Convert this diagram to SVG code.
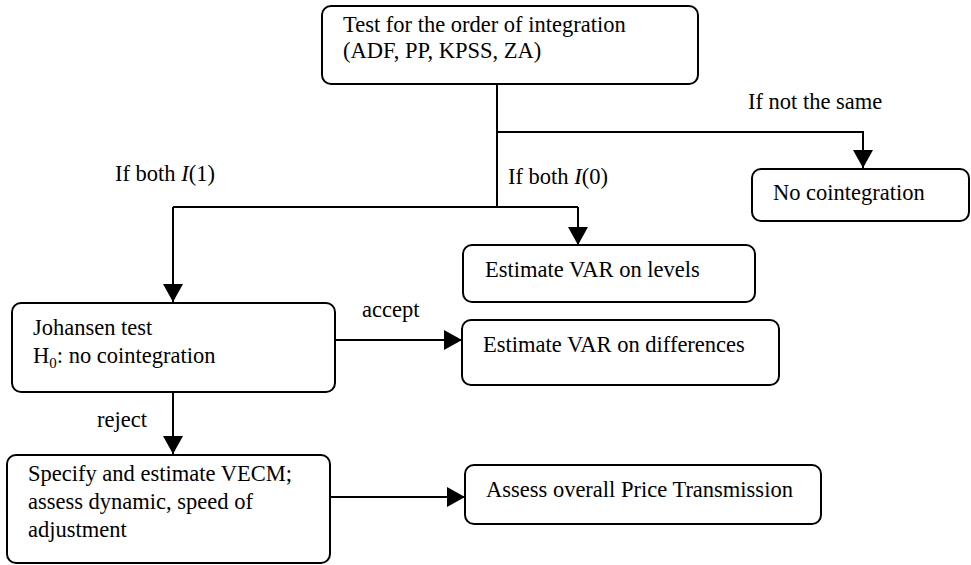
<svg xmlns="http://www.w3.org/2000/svg" width="971" height="565" viewBox="0 0 971 565">
  <style>
    .box { fill: #ffffff; stroke: #000000; stroke-width: 2; }
    .wire { fill: none; stroke: #000000; stroke-width: 2; }
    text { font-family: "Liberation Serif", "Times New Roman", serif; font-size: 22.5px; fill: #000000; }
    .it { font-style: italic; }
  </style>
  <defs>
    <marker id="arrow" viewBox="0 0 18 20" refX="18" refY="10" markerWidth="18" markerHeight="20" markerUnits="userSpaceOnUse" orient="auto">
      <path d="M0,0 L18,10 L0,20 Z" fill="#000000"/>
    </marker>
  </defs>
  <rect width="971" height="565" fill="#ffffff"/>

  <!-- connectors -->
  <g id="connectors">
    <path class="wire" d="M497,84 V207"/>
    <path class="wire" d="M497,132 H863 V168" marker-end="url(#arrow)"/>
    <path class="wire" d="M173,207 H578"/>
    <path class="wire" d="M173,207 V302" marker-end="url(#arrow)"/>
    <path class="wire" d="M578,207 V245" marker-end="url(#arrow)"/>
    <path class="wire" d="M335,340 H462" marker-end="url(#arrow)"/>
    <path class="wire" d="M173,392 V454" marker-end="url(#arrow)"/>
    <path class="wire" d="M331,497 H465" marker-end="url(#arrow)"/>
  </g>

  <!-- connector labels -->
  <g id="labels">
    <text x="748" y="109">If not the same</text>
    <text x="115" y="181">If both <tspan class="it">I</tspan>(1)</text>
    <text x="508" y="184">If both <tspan class="it">I</tspan>(0)</text>
    <text x="362" y="317">accept</text>
    <text x="97" y="427">reject</text>
  </g>

  <g id="test-order">
    <rect class="box" x="322" y="6" width="376" height="78" rx="9"/>
    <text x="343" y="32">Test for the order of integration</text>
    <text x="343" y="58">(ADF, PP, KPSS, ZA)</text>
  </g>

  <g id="no-cointegration">
    <rect class="box" x="752" y="169" width="217" height="52" rx="9"/>
    <text x="773" y="200">No cointegration</text>
  </g>

  <g id="var-levels">
    <rect class="box" x="463" y="245" width="292" height="57" rx="9"/>
    <text x="485" y="277">Estimate VAR on levels</text>
  </g>

  <g id="johansen">
    <rect class="box" x="12" y="303" width="323" height="89" rx="9"/>
    <text x="33" y="335">Johansen test</text>
    <text x="33" y="363">H<tspan font-size="15" dy="5">0</tspan><tspan dy="-5">: no cointegration</tspan></text>
  </g>

  <g id="var-differences">
    <rect class="box" x="462" y="320" width="317" height="65" rx="9"/>
    <text x="483" y="352">Estimate VAR on differences</text>
  </g>

  <g id="vecm">
    <rect class="box" x="7" y="455" width="323" height="108" rx="9"/>
    <text x="28" y="481">Specify and estimate VECM;</text>
    <text x="28" y="509">assess dynamic, speed of</text>
    <text x="28" y="537">adjustment</text>
  </g>

  <g id="price-transmission">
    <rect class="box" x="465" y="465" width="356" height="59" rx="9"/>
    <text x="486" y="497">Assess overall Price Transmission</text>
  </g>
</svg>
